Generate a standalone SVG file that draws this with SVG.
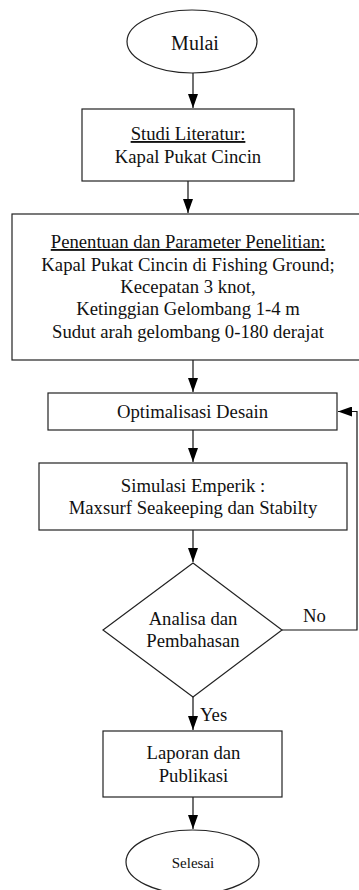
<svg xmlns="http://www.w3.org/2000/svg" width="359" height="890" viewBox="0 0 359 890">
<style>
.shape{fill:#fff;stroke:#222;stroke-width:1.2}
.t{font-family:"Liberation Serif","Times New Roman",serif;font-size:18.7px;fill:#111;text-anchor:middle}
.u{text-decoration:underline}
.c{fill:none;stroke:#111;stroke-width:1.2}
</style>
<defs>
<marker id="ah" viewBox="0 0 14 10" refX="14" refY="5" markerWidth="14" markerHeight="10" markerUnits="userSpaceOnUse" orient="auto">
<path d="M0,0 L14,5 L0,10 Z" fill="#000"/>
</marker>
</defs>
<rect width="359" height="890" fill="#fff"/>
<g id="connectors">
<path class="c" d="M193,73 V108" marker-end="url(#ah)"/>
<path class="c" d="M188,181 V213" marker-end="url(#ah)"/>
<path class="c" d="M193,360 V392" marker-end="url(#ah)"/>
<path class="c" d="M193,430 V462" marker-end="url(#ah)"/>
<path class="c" d="M193,530 V562" marker-end="url(#ah)"/>
<path class="c" d="M193,697 V730" marker-end="url(#ah)"/>
<path class="c" d="M193,797 V829" marker-end="url(#ah)"/>
<path class="c" d="M282,630 H357 V411.5 H338" marker-end="url(#ah)"/>
<text class="t" x="303" y="622" style="text-anchor:start">No</text>
<text class="t" x="200" y="721" style="text-anchor:start">Yes</text>
</g>
<g id="mulai">
<ellipse class="shape" cx="192" cy="41.5" rx="65" ry="31.5"/>
<text class="t" x="195" y="50" style="font-size:20px">Mulai</text>
</g>
<g id="studi">
<rect class="shape" x="82" y="109" width="212" height="72"/>
<text class="t u" x="188" y="140">Studi Literatur:</text>
<text class="t" x="188" y="163">Kapal Pukat Cincin</text>
</g>
<g id="penentuan">
<rect class="shape" x="12" y="214" width="352" height="146"/>
<text class="t u" x="188" y="248">Penentuan dan Parameter Penelitian:</text>
<text class="t" x="188" y="271">Kapal Pukat Cincin di Fishing Ground;</text>
<text class="t" x="188" y="293">Kecepatan 3 knot,</text>
<text class="t" x="188" y="315">Ketinggian Gelombang 1-4 m</text>
<text class="t" x="188" y="338">Sudut arah gelombang 0-180 derajat</text>
</g>
<g id="optimalisasi">
<rect class="shape" x="48" y="393" width="289" height="37"/>
<text class="t" x="192.5" y="418">Optimalisasi Desain</text>
</g>
<g id="simulasi">
<rect class="shape" x="39" y="463" width="308" height="67"/>
<text class="t" x="193" y="492">Simulasi Emperik :</text>
<text class="t" x="193" y="514">Maxsurf Seakeeping dan Stabilty</text>
</g>
<g id="analisa">
<polygon class="shape" points="193,563 282,630 193,697 103,630"/>
<text class="t" x="193" y="625">Analisa dan</text>
<text class="t" x="193" y="647">Pembahasan</text>
</g>
<g id="laporan">
<rect class="shape" x="103" y="731" width="179" height="66"/>
<text class="t" x="193.5" y="759">Laporan dan</text>
<text class="t" x="193.5" y="782">Publikasi</text>
</g>
<g id="selesai">
<ellipse class="shape" cx="192.5" cy="862" rx="66.5" ry="32"/>
<text class="t" x="193" y="868" style="font-size:15px">Selesai</text>
</g>
</svg>
